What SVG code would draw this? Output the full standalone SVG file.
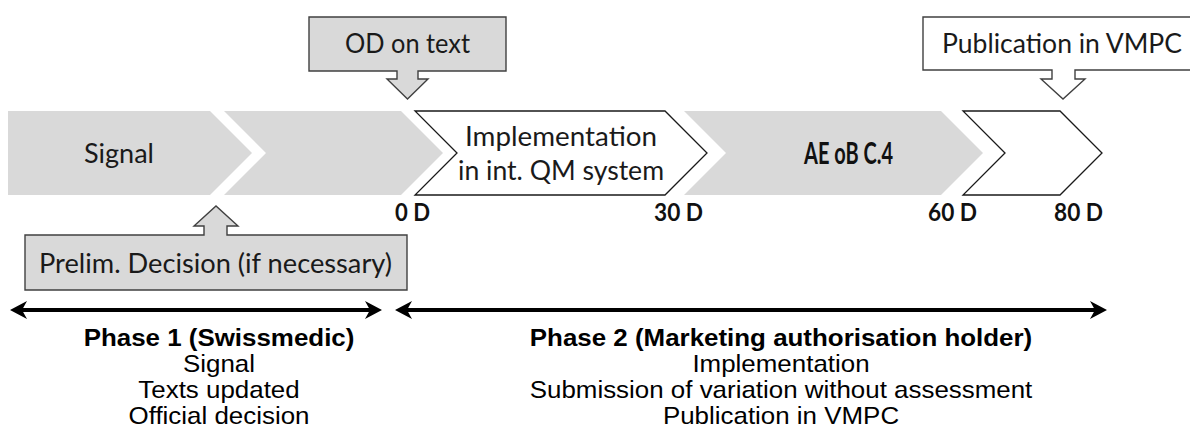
<svg xmlns="http://www.w3.org/2000/svg" width="1190" height="446" viewBox="0 0 1190 446">
<style>
.gray{fill:#d9d9d9;stroke:none}
.white{fill:#ffffff;stroke:#1a1a1a;stroke-width:1.3}
.callg{fill:#d9d9d9;stroke:#404040;stroke-width:1.4}
.callw{fill:#ffffff;stroke:#404040;stroke-width:1.4}
.cal{font-family:Lato,"Open Sans",sans-serif;font-size:26px;fill:#1a1a1a}
.calb{font-family:Lato,"Open Sans",sans-serif;font-size:24px;font-weight:bold;fill:#111}
.calbig{font-family:Lato,"Open Sans",sans-serif;font-size:30px;font-weight:bold;fill:#111}
.ar{font-family:"Liberation Sans",Arial,sans-serif;font-size:24px;fill:#000;text-anchor:middle}
.arb{font-family:"Liberation Sans",Arial,sans-serif;font-size:24px;font-weight:bold;fill:#000;text-anchor:middle}
.line{stroke:#000;stroke-width:4;fill:none}
.head{fill:#000}
</style>
<g id="chevron-signal">
<polygon class="gray" points="8,111 210,111 252,153 210,195 8,195"/>
<text class="cal" x="84" y="163" textLength="70" lengthAdjust="spacingAndGlyphs">Signal</text>
</g>
<g id="chevron-2">
<polygon class="gray" points="224,111 401,111 443,153 401,195 224,195 266,153"/>
</g>
<g id="chevron-implementation">
<polygon class="white" points="415,111 665,111 707,153 665,195 415,195 457,153"/>
<text class="cal" x="465" y="146" textLength="192" lengthAdjust="spacingAndGlyphs">Implementation</text>
<text class="cal" x="458" y="180" textLength="206" lengthAdjust="spacingAndGlyphs">in int. QM system</text>
</g>
<g id="chevron-ae">
<polygon class="gray" points="684,111 941,111 983,153 941,195 684,195 726,153"/>
<text class="calbig" x="804" y="164" textLength="89" lengthAdjust="spacingAndGlyphs">AE oB C.4</text>
</g>
<g id="chevron-5">
<polygon class="white" points="963,111 1060,111 1102,153 1060,195 963,195 1005,153"/>
</g>
<g id="callout-od">
<path class="callg" d="M309,17 H506 V71 H418 V79 H428 L407.5,99 L387,79 H397 V71 H309 Z"/>
<text class="cal" x="345" y="53" textLength="125" lengthAdjust="spacingAndGlyphs">OD on text</text>
</g>
<g id="callout-publication">
<path class="callw" d="M923,17 H1196 V70 H1075 V79 H1085 L1063,99 L1041,79 H1052 V70 H923 Z"/>
<text class="cal" x="942" y="53" textLength="240" lengthAdjust="spacingAndGlyphs">Publication in VMPC</text>
</g>
<g id="callout-prelim">
<path class="callg" d="M25,235 H204 V226 H194 L216,206 L238,226 H227 V235 H407 V290 H25 Z"/>
<text class="cal" x="39" y="273" textLength="353" lengthAdjust="spacingAndGlyphs">Prelim. Decision (if necessary)</text>
</g>
<g id="day-labels">
<text class="calb" x="395" y="221" textLength="35" lengthAdjust="spacingAndGlyphs">0 D</text>
<text class="calb" x="654" y="221" textLength="49" lengthAdjust="spacingAndGlyphs">30 D</text>
<text class="calb" x="928" y="221" textLength="49" lengthAdjust="spacingAndGlyphs">60 D</text>
<text class="calb" x="1054" y="221" textLength="49" lengthAdjust="spacingAndGlyphs">80 D</text>
</g>
<g id="connectors">
<line class="line" x1="20" y1="310" x2="372" y2="310"/>
<polygon class="head" points="10,310 27,301 22,310 27,319"/>
<polygon class="head" points="382,310 365,301 370,310 365,319"/>
<line class="line" x1="405" y1="310" x2="1097" y2="310"/>
<polygon class="head" points="395,310 412,301 407,310 412,319"/>
<polygon class="head" points="1107,310 1090,301 1095,310 1090,319"/>
</g>
<g id="phase1" transform="translate(219,0) scale(1.08,1)">
<text class="arb" x="0" y="346">Phase 1 (Swissmedic)</text>
<text class="ar" x="0" y="372">Signal</text>
<text class="ar" x="0" y="398">Texts updated</text>
<text class="ar" x="0" y="424">Official decision</text>
</g>
<g id="phase2" transform="translate(781,0) scale(1.08,1)">
<text class="arb" x="0" y="346">Phase 2 (Marketing authorisation holder)</text>
<text class="ar" x="0" y="372">Implementation</text>
<text class="ar" x="0" y="398">Submission of variation without assessment</text>
<text class="ar" x="0" y="424">Publication in VMPC</text>
</g>
</svg>
